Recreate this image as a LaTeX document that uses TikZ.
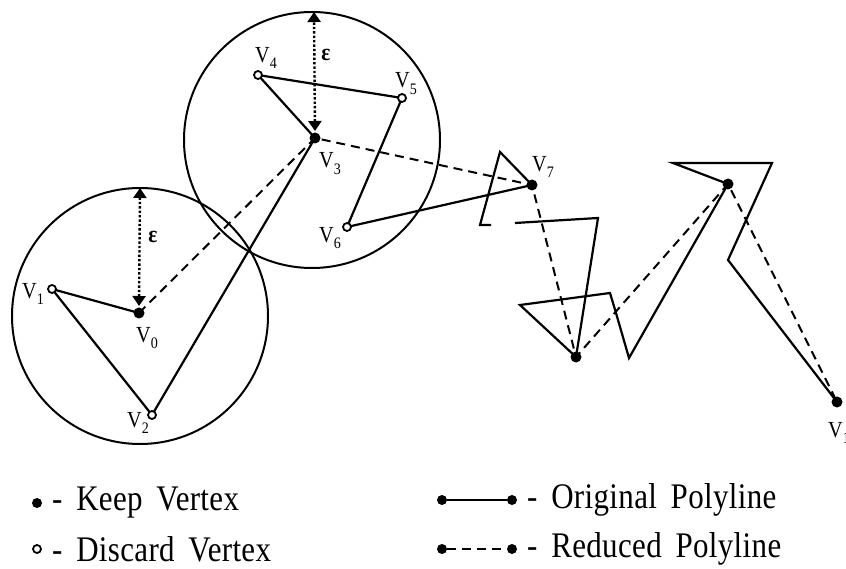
\documentclass[tikz,border=0pt]{standalone}
\usepackage{fontspec}
\setmainfont{Liberation Serif}[FakeStretch=0.88]
\newfontfamily\legfont{Liberation Serif}[FakeStretch=0.86, LetterSpace=1, WordSpace=1.7]
\usetikzlibrary{arrows.meta}
\newcommand\sbs[1]{\raisebox{-0.3em}{\fontsize{16}{16}\selectfont #1}}
\begin{document}
\begin{tikzpicture}[x=1pt,y=-1pt,
  orig/.style={line width=2.2pt, line join=miter},
  redl/.style={line width=2pt, dash pattern=on 9pt off 6pt},
  ring/.style={line width=2pt},
  keep/.style={circle, fill=black, inner sep=0pt, minimum size=11pt},
  disc/.style={circle, draw=black, fill=white, line width=1.8pt, inner sep=0pt, minimum size=8pt},
  lbl/.style={font=\fontsize{23}{23}\selectfont, inner sep=0pt},
  leg/.style={font=\legfont\fontsize{36}{36}\selectfont, inner sep=0pt, anchor=west},
  epsar/.style={dotted, line width=2.4pt, {Triangle[width=13pt,length=10pt]}-{Triangle[width=13pt,length=10pt]}},
  epsl/.style={font=\fontsize{24}{24}\selectfont\bfseries, inner sep=0pt}
]
\useasboundingbox (0,0) rectangle (846,569);

% circles
\node[circle, draw, ring, minimum size=256pt, inner sep=0pt] (C1) at (140,316) {};
\node[circle, draw, ring, minimum size=256pt, inner sep=0pt] (C2) at (312,140) {};

% vertices
\coordinate (V0) at (139,313);
\coordinate (V1) at (52,289);
\coordinate (V2) at (152,415);
\coordinate (V3) at (315,138);
\coordinate (V4) at (258,75);
\coordinate (V5) at (402,98);
\coordinate (V6) at (347,227);
\coordinate (V7) at (532,185);
\coordinate (A) at (500,152);
\coordinate (B) at (480,225);
\coordinate (C) at (491,225);
\coordinate (D) at (515,223);
\coordinate (E) at (598,218);
\coordinate (K) at (576,357);
\coordinate (F) at (520,305);
\coordinate (G) at (610,293);
\coordinate (H) at (616,313);
\coordinate (I) at (629,358);
\coordinate (V9) at (728,184);
\coordinate (J) at (673,163);
\coordinate (L) at (772,163);
\coordinate (M) at (728,260);
\coordinate (VN) at (837,402);
\coordinate (T1) at (140,188);
\coordinate (T2) at (314,12);
\coordinate (B1) at (139,306);
\coordinate (B2) at (315,131);

% original polyline
\draw[orig] (V0) -- (V1) -- (V2) -- (V3) -- (V4) -- (V5) -- (V6) -- (V7) -- (A) -- (B) -- (C);
\draw[orig] (D) -- (E) -- (K) -- (F) -- (G) -- (H) -- (I) -- (V9) -- (J) -- (L) -- (M) -- (VN);

% reduced polyline
\draw[redl] (V0) -- (V3) -- (V7) -- (K) -- (V9) -- (VN);

% tolerance arrows
\draw[epsar] (B1) -- (T1);
\draw[epsar] (B2) -- (T2);
\node[epsl] (e1) at (153,237) {ε};
\node[epsl] (e2) at (326,55) {ε};

% markers
\foreach \p in {V0,V3,V7,K,V9,VN} \node[keep] at (\p) {};
\foreach \p in {V1,V2,V4,V5,V6} \node[disc] at (\p) {};

% labels
\node[lbl] (l0) at (147,338) {V\sbs{0}};
\node[lbl] (l1) at (33,294) {V\sbs{1}};
\node[lbl] (l2) at (138,423) {V\sbs{2}};
\node[lbl] (l3) at (330,164) {V\sbs{3}};
\node[lbl] (l4) at (266,58) {V\sbs{4}};
\node[lbl] (l5) at (406,84) {V\sbs{5}};
\node[lbl] (l6) at (330,238) {V\sbs{6}};
\node[lbl] (l7) at (543,167) {V\sbs{7}};
\node[lbl, anchor=west] (ln) at (828,433) {V\sbs{1}};

% legend
\node[keep, minimum size=10pt] (k1) at (37,503) {};
\node[leg] (t1) at (52,503) {- Keep Vertex};
\node[disc] (d1) at (37,549) {};
\node[leg] (t2) at (52,549) {- Discard Vertex};
\node[keep, minimum size=10pt] (la) at (442,500) {};
\node[keep, minimum size=10pt] (lb) at (512,500) {};
\draw[orig] (la) -- (lb);
\node[leg] (t3) at (527,500) {- Original Polyline};
\node[keep, minimum size=10pt] (lc) at (442,549) {};
\node[keep, minimum size=10pt] (ld) at (512,549) {};
\draw[redl] (lc) -- (ld);
\node[leg] (t4) at (527,549) {- Reduced Polyline};
\end{tikzpicture}
\end{document}
